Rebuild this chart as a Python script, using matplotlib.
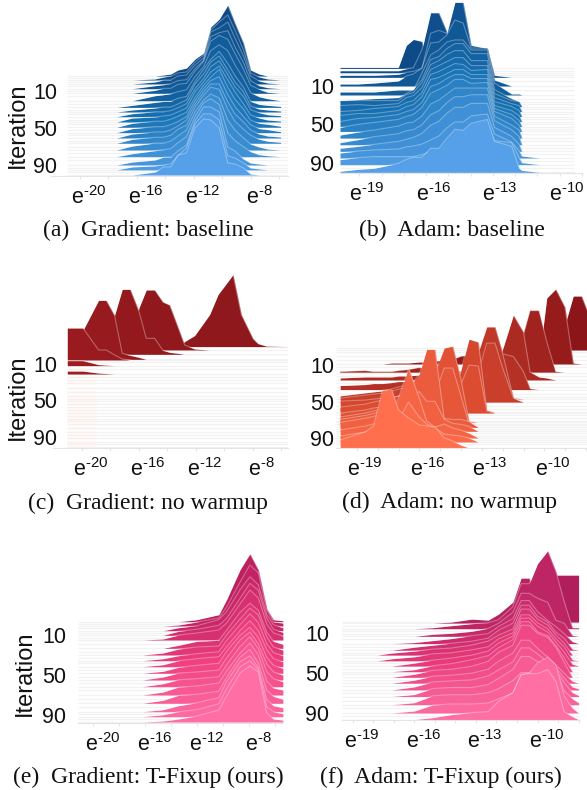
import numpy as np
import matplotlib
matplotlib.use("Agg")
import matplotlib.pyplot as plt
from matplotlib.colors import LinearSegmentedColormap
from matplotlib.transforms import ScaledTranslation

plt.rcParams['font.family'] = ['Liberation Sans', 'DejaVu Sans']
plt.rcParams['mathtext.fontset'] = 'custom'
plt.rcParams['mathtext.rm'] = 'Liberation Sans'
plt.rcParams['mathtext.default'] = 'regular'

grad_ticks = [-20, -18, -16, -14, -12, -10, -8, -6]
grad_labeled = [-20, -16, -12, -8]
adam_ticks = [-19, -18, -17, -16, -15, -14, -13, -12, -11, -10, -9, -8]
adam_labeled = [-19, -16, -13, -10]
iter_ticks = [10, 50, 90]

# ---------- (a)
a_x = [-17.4, -16.3, -14.7, -14.1, -13.6, -13.1, -12.5, -11.9, -11.3, -10.8, -10.2, -9.6, -9.1, -8.5, -8.0, -7.4, -6.8, -5.9]
a_iter = [-6.2, -1.9, 2.4, 7.5, 12.5, 20.5, 27.7, 32.7, 37.8, 43.5, 49.2, 55, 60.8, 66.5, 73.8, 81, 90, 95.3, 100.8]
a_rows = [
 [0,0,0,1,2,6,8,17,23,49,57,71,53,33,6,2,0,0],
 [0,0,1,3,4,7,8,18,25,50,58,65,50,30,7,3,1,0],
 [0,0,2,4,4,8,9,19,26,52,56,62,46,28,8,3,1,0],
 [0,0,3,4,5,8,9,20,28,52,56,58,42,26,8,3,1,0],
 [0,0,3,5,5,9,10,22,32,52,58,54,40,24,8,4,1,0],
 [0,0,5,6,7,9,11,24,34,50,56,50,36,22,8,4,2,0],
 [0,2,5,6,6,9,11,26,38,48,56,44,32,20,6,3,2,1],
 [0,2,4,5,5,8,12,28,38,50,56,42,30,20,6,3,2,1],
 [0,3,5,5,6,9,13,28,38,50,56,42,30,20,7,4,2,1],
 [0,4,5,6,7,10,14,30,40,50,56,42,30,18,7,4,2,1],
 [0,4,6,6,8,11,15,30,42,50,58,40,28,18,7,4,3,1],
 [0,4,6,6,8,11,16,32,44,52,56,38,26,16,8,4,3,1],
 [0,4,6,6,8,12,18,34,46,54,54,36,24,16,8,4,2,1],
 [0,4,6,6,8,14,18,36,48,56,54,34,22,14,8,4,2,1],
 [0,4,7,7,9,14,20,38,50,56,52,30,20,12,6,3,1,0],
 [0,3,6,7,8,14,20,40,54,58,52,24,16,10,5,2,1,0],
 [0,3,5,8,8,14,20,44,58,58,53,18,14,6,2,1,0,0],
 [0,3,4,5,6,14,22,46,56,56,50,14,12,7,2,1,0,0],
 [0,0,3,8,8,20,22,47,56,55,47,12,11,7,1,0,0,0],
]
a_faint = [-4, 0, 5, 10, 15, 24, 30, 35, 41, 46, 52, 58, 64, 70, 77, 85, 93, 98]

# ---------- (b)
b_x = [-19.87, -19.07, -18.34, -17.25, -16.89, -16.57, -16.19, -15.8, -15.43, -15.07, -14.71, -14.34, -13.98, -13.25, -12.93, -12.16, -11.82, -11.7, -10.9]
b_iter = [-8.3, -3.8, 1, 10, 19.3, 26.2, 31.4, 36.6, 41.7, 46.9, 52.1, 57.2, 64.1, 71, 77.9, 84.8, 91.7, 99.7]
b_rows = [
 [1,1,1,1,23,29,27,1,0,0,0,0,0,0,0,0,0,0,0],
 [2,2,2,2,4,5,23,60,60,41,6,0,0,0,0,0,0,0,0],
 [2,2,2,3,5,6,9,44,47,44,75,75,32,29,2,0,0,0,0],
 [2,2,3,5,10,12,18,43,44,51,66,63,38,38,6,0,0,0,0],
 [3,3,3,5,5,5,22,40,45,53,55,55,45,45,12,1,1,0,0],
 [1,2,3,4,8,12,22,42,45,53,58,58,48,48,12,3,0,0,0],
 [6,6,6,6,12,14,24,42,46,52,56,56,46,46,13,6,5,0,0],
 [6,7,6,8,14,16,24,42,46,50,54,54,46,46,14,8,6,0,0],
 [5,6,8,10,14,16,24,42,45,49,53,52,46,47,15,10,6,0,0],
 [6,8,8,11,15,17,25,42,44,48,52,52,47,47,16,11,6,0,0],
 [5,8,9,12,15,17,24,40,43,48,52,52,48,48,18,12,6,0,0],
 [4,7,9,12,15,17,24,38,42,46,52,52,48,49,20,13,6,0,0],
 [3,6,8,12,15,16,22,34,38,44,50,50,50,50,22,13,8,0,0],
 [2,5,8,11,14,15,20,30,34,42,48,48,50,50,24,15,8,0,0],
 [3,5,7,10,12,14,18,26,30,38,44,44,48,48,24,15,7,0,0],
 [5,7,8,9,11,12,14,18,22,30,36,36,42,44,24,16,7,2,0],
 [5,7,8,8,8,8,10,13,14,22,30,30,36,40,24,22,7,2,0],
 [1,3,4,9,13,15,15,24,24,34,43,42,49,53,31,26,4,2,0],
]
b_faint = [-6, -1, 5, 14, 23, 29, 34, 39, 44, 49, 55, 60, 67, 74, 81, 88, 95]

# ---------- (c)
c_x = [-21, -19.9, -18.81, -18.27, -17.69, -17.15, -16.59, -15.98, -15.47, -14.88, -14.3, -13.83, -13.25, -12.78, -12.08, -11.03, -10.44, -9.86, -9.39, -8.81, -7.99, -7.64, -7.06, -5.54]
c_iter = [-9.1, -5.4, -0.6, 4.9, 5.6, 11.8, 21]
c_rows = [
 [0,0,0,0,0,0,0,0,0,0,0,0,0,5,11,32,52,63,72,32,8,3,0.5,0],
 [0,0,0,0,0,0,0,42,60,60,48,45,23,5,1,0,0,0,0,0,0,0,0,0],
 [0,0,0,0,39,65,65,43,16,16,4,2,1,0,0,0,0,0,0,0,0,0,0,0],
 [0,29,59,59,44,6,4,2,0,0,0,0,0,0,0,0,0,0,0,0,0,0,0,0],
 [32,32,10,10,5,1,0,0,0,0,0,0,0,0,0,0,0,0,0,0,0,0,0,0],
 [5,5,1,0.5,0,0,0,0,0,0,0,0,0,0,0,0,0,0,0,0,0,0,0,0],
 [3,3,1,0.5,0,0,0,0,0,0,0,0,0,0,0,0,0,0,0,0,0,0,0,0],
]
c_faint = [8, 15, 24, 27, 31, 36, 41, 45, 48, 50, 54, 57, 60, 64, 67, 70, 73, 76, 80, 84, 88, 91, 95, 98, 101]

# ---------- (d)
d_x = [-19.8, -18.6, -18.2, -17.77, -17.32, -17, -16.52, -16.01, -15.65, -15.25, -14.81, -14.4, -14.02, -13.62, -13.17, -12.77, -12.37, -12.05, -11.49, -11.01, -10.69, -10.26, -9.89, -9.46, -9.02, -8.62, -8.22, -7.96]
d_iter = [-6.4, 8.9, 18.4, 26.4, 36.9, 47.1, 50.7, 61.6, 62.7, 72.5, 74.7, 78.4, 82.7, 90, 94.4, 100.9]
d_rows = [
 [0,0,0,0,0,0,0,0,0,0,0,0,0,0,0,0,0,0,0,0,0,0,0,0,25,54,54,40],
 [0,0,0,0,1,1,1,2,2,3,4,5,8,9,10,10,6,3,1,0,0,4,66,75,57,1,0,0],
 [1,2,1,1,1,2,3,5,4,3,2,2,1,1,1,0,0,0,0,38,62,62,31,1,0,0,0,0],
 [2,3,3,3,3,4,4,5,5,4,3,3,2,2,1,1,1,28,65,48,8,3,2,0,0,0,0,0],
 [4,5,6,6,7,8,8,8,7,6,5,4,3,3,2,2,2,36,33,18,1,0,0,0,0,0,0,0],
 [3,6,7,8,10,12,14,16,14,10,8,6,4,3,47,72,72,49,1,0,0,0,0,0,0,0,0,0],
 [4,7,8,9,11,13,15,17,16,13,10,8,6,5,30,59,59,37,4,0,0,0,0,0,0,0,0,0],
 [11,12,13,14,15,16,20,22,20,18,14,20,41,73,70,2,0,0,0,0,0,0,0,0,0,0,0,0],
 [6,9,11,13,15,17,21,23,21,19,15,20,28,48,47,2,0,0,0,0,0,0,0,0,0,0,0,0],
 [9,12,14,15,16,18,24,30,20,50,74,76,44,1,0,0,0,0,0,0,0,0,0,0,0,0,0,0],
 [7,11,13,15,17,19,25,28,20,30,56,56,29,0,0,0,0,0,0,0,0,0,0,0,0,0,0,0],
 [8,12,14,16,18,22,40,53,78,78,9,8,8,6,0,0,0,0,0,0,0,0,0,0,0,0,0,0],
 [9,13,15,17,20,22,30,40,30,30,12,8,7,5,0,0,0,0,0,0,0,0,0,0,0,0,0,0],
 [8,12,14,16,24,40,70,40,17,11,14,10,8,5,0,0,0,0,0,0,0,0,0,0,0,0,0,0],
 [6,10,11,12,16,22,40,25,18,14,8,7,6,4,0,0,0,0,0,0,0,0,0,0,0,0,0,0],
 [8,16,22,58,58,38,30,23,22,21,10,7,3,0,0,0,0,0,0,0,0,0,0,0,0,0,0,0],
]
d_faint = [-9, -4, 0, 4, 12, 22, 30, 34, 42, 45, 55, 58, 65, 68, 71, 76, 80, 85, 88, 92, 97]

# ---------- (e)
e_x = [-16.2, -14.6, -13.4, -12, -10.3, -9.7, -8.66, -7.9, -7.25, -6.6, -6.08, -5.36]
e_iter = [-3.3, 1, 5.7, 10.3, 15, 23.3, 30, 35.7, 41.7, 48.3, 55, 61.7, 70, 78.3, 86.7, 91.7, 97]
e_rows = [
 [0,0,0,2,7,22,52,68,52,13,2,1],
 [0,0,1,4,8,19,44,61,53,16,4,3],
 [0,0,3,5,11,19,41,54,46,16,6,3],
 [0,0,4,6,10,17,37,52,45,17,6,3],
 [0,1,5,7,10,17,36,50,42,16,7,4],
 [0,0,3,7,8,18,36,45,38,16,7,4],
 [0,2,6,8,9,20,36,47,40,18,8,5],
 [0,2,5,7,9,20,36,47,38,17,8,5],
 [0,2,6,8,10,20,36,46,36,17,8,5],
 [0,2,6,8,10,22,38,46,36,16,8,5],
 [0,3,7,8,10,22,40,48,36,16,8,5],
 [0,3,7,8,10,22,40,50,38,15,8,5],
 [0,3,8,9,12,24,42,52,40,14,7,5],
 [0,3,8,9,12,26,46,54,40,13,7,4],
 [0,2,6,9,14,30,50,56,44,12,6,4],
 [0,2,5,7,13,28,50,56,47,10,5,3],
 [0,1,3,6,12,26,49,56,50,9,3,2],
]
e_faint = [-1, 3, 8, 13, 19, 27, 33, 38, 45, 52, 58, 65, 74, 82, 89, 94, 100]

# ---------- (f)
f_x = [-17.8, -17.1, -16, -15.1, -14.2, -13.2, -12.4, -11.9, -11.2, -10.8, -10.4, -10, -9.5, -9.1, -8.7, -8.3, -8]
f_iter = [-0.9, 0.1, 5.7, 13.3, 20.6, 27.2, 32.1, 37.8, 43.1, 48.7, 54.3, 60.2, 66.9, 73.5, 81.7, 90, 96.6]
f_rows = [
 [0,0,0,0,0,0,0,0,0,0,0,0,0,47,47,47,47],
 [0,0,0,0,1,4,3,9,21,45,45,24,6,0,0,0,0],
 [0,0,0,1,3,5,6,9,22,45,45,65,78,57,27,1,1],
 [0,0,0,2,3,5,8,13,24,43,43,38,34,16,13,1,0],
 [0,0,1,3,5,8,10,17,25,43,43,32,23,17,10,2,0],
 [0,0,3,5,7,9,12,20,27,45,45,34,28,18,12,1,0],
 [0,2,4,6,7,10,14,20,26,46,46,36,30,20,12,0,0],
 [0,2,4,7,8,11,14,22,28,46,46,38,32,22,14,1,0],
 [0,0,3,6,8,11,15,23,30,48,48,40,34,24,14,2,0],
 [0,0,2,6,8,12,16,24,32,50,50,40,36,26,14,0,0],
 [0,0,3,7,8,11,16,25,32,52,52,44,40,30,15,0,0],
 [0,0,3,7,8,10,14,22,30,43,43,35,26,18,10,2,0],
 [0,0,3,8,9,10,14,20,28,42,42,36,28,22,12,3,1],
 [0,0,2,8,9,9,12,18,27,40,40,35,32,26,14,4,1],
 [0,0,2,9,10,10,12,16,24,32,32,36,40,34,14,6,2],
 [0,0,2,8,9,9,10,14,20,38,40,50,56,48,17,5,0],
 [0,0,0,2,5,7,8,18,27,45,46,46,50,38,8,3,0],
]
f_faint = [3, 8, 11, 16, 24, 30, 35, 40, 46, 51, 57, 63, 70, 78, 85, 93]

W, H, DPI = 587, 790, 100
fig = plt.figure(figsize=(W / DPI, H / DPI), dpi=DPI, facecolor='white')


def panel(x, iters, rows, faint, ticks, labeled, box, xlim, y10, y90, label_right, label_dx, cols, span, tint=None):
    l, r, t, b = box
    ax = fig.add_axes([l / W, 1 - b / H, (r - l) / W, (b - t) / H], facecolor='none')
    ppi = (y90 - y10) / 80
    ax.set_xlim(*xlim)
    ax.set_ylim(10 + (b - y10) / ppi, 10 + (t - y10) / ppi)
    for s in ('top', 'left', 'right'):
        ax.spines[s].set_visible(False)
    ax.spines['bottom'].set_color('#e4e4e4')
    ax.set_xticks(ticks, [('$e^{\u2010%d}$' % abs(v)) if v in labeled else '' for v in ticks])
    ax.tick_params(axis='x', length=2, color='#e4e4e4', labelsize=15.5, pad=5.5, labelcolor='#111111')
    ax.set_yticks(iter_ticks, [str(v) for v in iter_ticks])
    ax.tick_params(axis='y', length=0, labelsize=15.5, pad=(l - label_right) * 72 / DPI, labelcolor='#111111')
    off = ScaledTranslation(label_dx / DPI, 0, fig.dpi_scale_trans)
    for lab in ax.get_xticklabels():
        lab.set_transform(lab.get_transform() + off)

    x = np.asarray(x, float)
    ax.hlines(list(iters) + list(faint), span[0], span[1], color='#f2f2f2', lw=0.9, zorder=1)
    if tint:
        ax.hlines(list(faint), tint[0], tint[1], color=tint[2], lw=1.0, zorder=1.5)
    cmap = LinearSegmentedColormap.from_list('r', cols)
    n = len(rows)
    for i, (base, row) in enumerate(zip(iters, rows)):
        h = np.asarray(row, float) / ppi
        c = cmap(i / (n - 1))
        top = base - h
        # keep the segments that rise from a zero bin
        mask = (h > 0) | np.r_[h[1:] > 0, False] | np.r_[False, h[:-1] > 0]
        ax.fill_between(x, base, top, where=mask, color=c, lw=0, zorder=2 + i * .01, clip_on=False)
        ax.plot(x, np.where(mask, top, np.nan), color='white', alpha=0.32, lw=0.8,
                zorder=2 + i * .01 + .005, clip_on=False, solid_joinstyle='miter')
    return ax


blues = ['#0d4a87', '#1772b4', '#55a0e8']
dark_reds = ['#8f181c', '#961a1e', '#a01d22']
reds = ['#8c1519', '#d9492f', '#ff6f4d']
pinks = ['#bd1f5f', '#f0407f', '#ff6fa6']
pinks2 = ['#b01e5c', '#e83a7b', '#ff6fa3']

panel(a_x, a_iter, a_rows, a_faint, grad_ticks, grad_labeled, (51, 288, 0, 176), (-22.0, -5.38), 91, 165, 57, 9, blues,
      (-20.9, -5.4))
panel(b_x, b_iter, b_rows, b_faint, adam_ticks[:11], adam_labeled, (340, 582, 0, 173), (-19.87, -9.35), 86, 163, 334, 7, blues,
      (-19.87, -9.35))
panel(c_x, c_iter, c_rows, c_faint, grad_ticks, grad_labeled, (53, 288, 268, 448), (-22.0, -5.54), 364, 437, 57, 9, dark_reds,
      (-21, -5.54), tint=(-21, -19.0, '#fbeeea'))
panel(d_x, d_iter, d_rows, d_faint, adam_ticks[:12], adam_labeled, (336, 587, 268, 448), (-20.0, -7.96), 365, 438, 334, 8, reds,
      (-20, -7.96))
panel(e_x, e_iter, e_rows, e_faint, grad_ticks, grad_labeled, (78, 283, 545, 723), (-21.16, -5.35), 635, 715, 66, 10, pinks,
      (-21.16, -5.36))
panel(f_x, f_iter, f_rows, f_faint, adam_ticks, adam_labeled, (342, 579, 545, 720), (-19.52, -7.98), 633, 713, 329, 9, pinks2,
      (-19.5, -8))

captions = ['(a)  Gradient: baseline', '(b)  Adam: baseline', '(c)  Gradient: no warmup',
            '(d)  Adam: no warmup', '(e)  Gradient: T-Fixup (ours)', '(f)  Adam: T-Fixup (ours)']
cap_xy = [(148, 230), (452, 230), (148, 503), (450, 502), (148, 777), (441, 777)]
for s, (px, py) in zip(captions, cap_xy):
    fig.text(px / W, 1 - py / H, s, family='Liberation Serif', fontsize=17, ha='center', va='center', color='#111111')
for px, py in [(18, 125), (18, 397), (25, 673)]:
    fig.text(px / W, 1 - py / H, 'Iteration', fontsize=17, rotation=90, ha='center', va='center', color='#111111')

fig.savefig('out.png', dpi=DPI)
